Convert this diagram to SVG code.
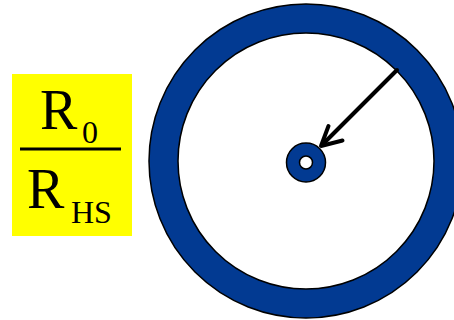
<svg xmlns="http://www.w3.org/2000/svg" width="454" height="320" viewBox="0 0 454 320">
<style>
.ring{fill:#023a92;stroke:#000;stroke-width:1.5}
.hole{fill:#fff;stroke:#000;stroke-width:1.5}
.t{font-family:"Liberation Serif","Times New Roman",serif;fill:#000}
.arr{fill:none;stroke:#000;stroke-width:4;stroke-linecap:round;stroke-linejoin:round}
</style>
<rect width="454" height="320" fill="#fff"/>
<g id="ratio">
<rect x="12" y="74" width="120" height="162" fill="#ffff00"/>
<text class="t" x="40" y="128.5" font-size="56">R</text>
<text class="t" x="82" y="143" font-size="32">0</text>
<rect x="20" y="147.5" width="101" height="3" fill="#000"/>
<text class="t" x="27" y="208.3" font-size="56">R</text>
<text class="t" x="71" y="223.3" font-size="32">HS</text>
</g>
<g id="outer-ring">
<circle class="ring" cx="306" cy="161" r="157"/>
<circle class="hole" cx="306" cy="161" r="128"/>
</g>
<g id="inner-ring">
<circle class="ring" cx="306" cy="162.5" r="19.5"/>
<circle class="hole" cx="306" cy="162.5" r="6.5"/>
</g>
<g id="connectors">
<line class="arr" x1="397" y1="70" x2="322" y2="145"/>
<polyline class="arr" points="328.5,126 321,146 342.5,140.5"/>
</g>
</svg>
